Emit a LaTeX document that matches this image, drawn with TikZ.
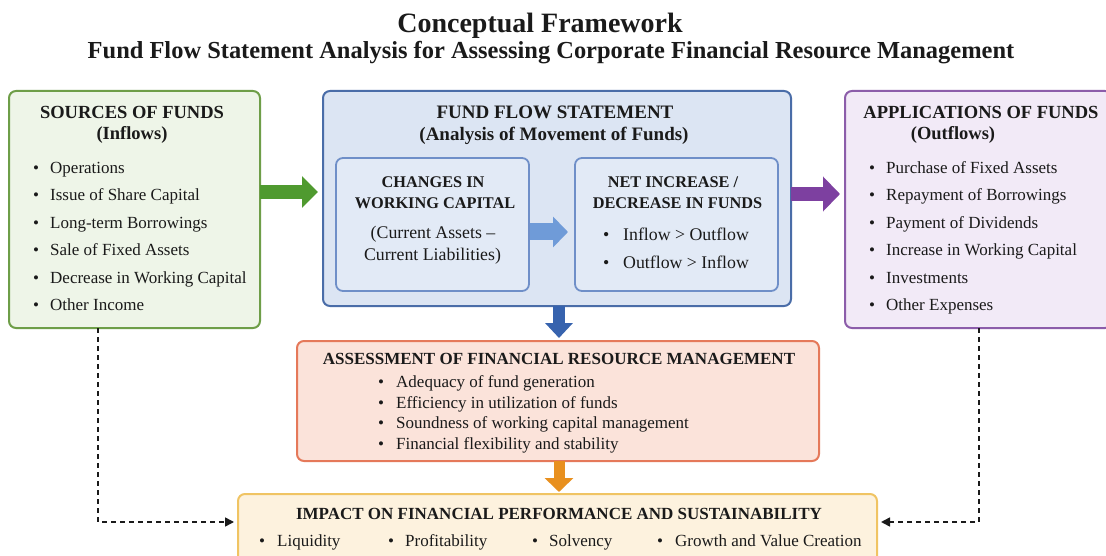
\documentclass[tikz,border=0pt]{standalone}
\usepackage{fontspec}
\setmainfont{Liberation Serif}
\usetikzlibrary{arrows.meta}
\definecolor{srcB}{HTML}{6E9E48}
\definecolor{srcF}{HTML}{EEF5E8}
\definecolor{grA}{HTML}{4F9A2F}
\definecolor{ffsB}{HTML}{4A6DA8}
\definecolor{ffsF}{HTML}{DCE5F3}
\definecolor{inB}{HTML}{6F8FC8}
\definecolor{inF}{HTML}{E2EAF6}
\definecolor{inA}{HTML}{6F9BD8}
\definecolor{blA}{HTML}{3763AE}
\definecolor{appB}{HTML}{8C5DAA}
\definecolor{appF}{HTML}{F2EAF7}
\definecolor{puA}{HTML}{7D40A0}
\definecolor{assB}{HTML}{E5795A}
\definecolor{assF}{HTML}{FBE3DA}
\definecolor{orA}{HTML}{E8901F}
\definecolor{impB}{HTML}{F0C463}
\definecolor{impF}{HTML}{FDF2DE}
\definecolor{ink}{HTML}{1A1A1A}
\newcommand{\bitem}[1]{\makebox[17pt][l]{•}#1}
\begin{document}
\begin{tikzpicture}[x=1pt,y=-1pt,
  box/.style={draw, line width=2pt, rounded corners=7pt, inner sep=0pt, outer sep=0pt},
  tbase/.style={text=ink, inner sep=0pt, text height=0.68em, text depth=0pt, yshift=-3pt},
  hd/.style={tbase, font=\bfseries\fontsize{18.5}{20}\selectfont},
  ihd/.style={tbase, font=\bfseries\fontsize{16.3}{18}\selectfont},
  txt/.style={tbase, font=\fontsize{17}{20}\selectfont},
  itxt/.style={tbase, font=\fontsize{17.8}{20}\selectfont},
  shd/.style={tbase, font=\bfseries\fontsize{17}{19}\selectfont},
  stxt/.style={tbase, font=\fontsize{17}{19}\selectfont, anchor=west},
  li/.style={txt, anchor=west},
  dsh/.style={draw=ink, line width=1.6pt, dash pattern=on 5pt off 4pt, -{Triangle[length=9pt,width=9pt]}}
]
\useasboundingbox (0,0) rectangle (1106,556);
\fill[white] (0,0) rectangle (1106,556);

% titles
\node[font=\bfseries\fontsize{28}{30}\selectfont, text=ink, inner sep=0pt, anchor=base] (title) at (540,33) {Conceptual Framework};
\node[font=\bfseries\fontsize{24.45}{26}\selectfont, text=ink, inner sep=0pt, anchor=base] (subtitle) at (551,58.5) {Fund Flow Statement Analysis for Assessing Corporate Financial Resource Management};

% boxes
\node[box, draw=srcB, fill=srcF, minimum width=251pt, minimum height=237pt] (src) at (134.5,209.5) {};
\node[box, draw=ffsB, fill=ffsF, minimum width=468pt, minimum height=215pt] (ffs) at (557,198.5) {};
\node[box, draw=inB, fill=inF, line width=1.8pt, minimum width=193pt, minimum height=133pt] (wc) at (432.5,224.5) {};
\node[box, draw=inB, fill=inF, line width=1.8pt, minimum width=203pt, minimum height=133pt] (net) at (676.5,224.5) {};
\node[box, draw=appB, fill=appF, minimum width=267pt, minimum height=237pt] (app) at (978.5,209.5) {};
\node[box, draw=assB, fill=assF, minimum width=522pt, minimum height=120pt] (ass) at (558,401) {};
\node[box, draw=impB, fill=impF, minimum width=639pt, minimum height=70pt] (imp) at (557.5,529) {};

% sources text
\node[hd] (srch) at (132,112) {SOURCES OF FUNDS};
\node[hd] (srcs) at (132,133) {(Inflows)};
\node[li] (s1) at (33,167) {\bitem{Operations}};
\node[li] (s2) at (33,194.5) {\bitem{Issue of Share Capital}};
\node[li] (s3) at (33,222) {\bitem{Long-term Borrowings}};
\node[li] (s4) at (33,249.5) {\bitem{Sale of Fixed Assets}};
\node[li] (s5) at (33,277) {\bitem{Decrease in Working Capital}};
\node[li] (s6) at (33,304.5) {\bitem{Other Income}};

% fund flow statement text
\node[hd, font=\bfseries\fontsize{19}{21}\selectfont] (ffsh) at (555,112) {FUND FLOW STATEMENT};
\node[hd, font=\bfseries\fontsize{19}{21}\selectfont] (ffss) at (554,134) {(Analysis of Movement of Funds)};
\node[ihd] (wch1) at (433,181) {CHANGES IN};
\node[ihd] (wch2) at (435,202) {WORKING CAPITAL};
\node[itxt] (wct1) at (433,232.5) {(Current Assets –};
\node[itxt] (wct2) at (432.5,254) {Current Liabilities)};
\node[ihd] (neth1) at (673,181) {NET INCREASE /};
\node[ihd] (neth2) at (677.5,202) {DECREASE IN FUNDS};
\node[itxt, anchor=west] (n1) at (603,234) {\makebox[20pt][l]{•}Inflow > Outflow};
\node[itxt, anchor=west] (n2) at (603,262) {\makebox[20pt][l]{•}Outflow > Inflow};

% applications text
\node[hd] (apph) at (981,112) {APPLICATIONS OF FUNDS};
\node[hd] (apps) at (953,133) {(Outflows)};
\node[li] (a1) at (869,167) {\bitem{Purchase of Fixed Assets}};
\node[li] (a2) at (869,194.5) {\bitem{Repayment of Borrowings}};
\node[li] (a3) at (869,222) {\bitem{Payment of Dividends}};
\node[li] (a4) at (869,249.5) {\bitem{Increase in Working Capital}};
\node[li] (a5) at (869,277) {\bitem{Investments}};
\node[li] (a6) at (869,304.5) {\bitem{Other Expenses}};

% assessment text
\node[shd] (assh) at (559,358.5) {ASSESSMENT OF FINANCIAL RESOURCE MANAGEMENT};
\node[stxt] (b1) at (378,381.5) {\makebox[18pt][l]{•}Adequacy of fund generation};
\node[stxt] (b2) at (378,402) {\makebox[18pt][l]{•}Efficiency in utilization of funds};
\node[stxt] (b3) at (378,422.5) {\makebox[18pt][l]{•}Soundness of working capital management};
\node[stxt] (b4) at (378,443) {\makebox[18pt][l]{•}Financial flexibility and stability};

% impact text
\node[shd] (imph) at (559,513.5) {IMPACT ON FINANCIAL PERFORMANCE AND SUSTAINABILITY};
\node[stxt] (i1) at (259,540) {\makebox[18pt][l]{•}Liquidity};
\node[stxt] (i2) at (388,540) {\makebox[17pt][l]{•}Profitability};
\node[stxt] (i3) at (532,540) {\makebox[17pt][l]{•}Solvency};
\node[stxt] (i4) at (657,540) {\makebox[18pt][l]{•}Growth and Value Creation};

% helper coordinates
\coordinate (gy) at (0,192);
\coordinate (py) at (0,194);
\coordinate (iy) at (0,232);
\coordinate (bx) at (559,0);
\coordinate (lx) at (98,0);
\coordinate (rx) at (979,0);
\coordinate (dy) at (0,522);

% fat arrows
\draw[grA, line width=14pt, -{Triangle[width=31pt,length=16pt]}, shorten >=5pt] (src.east |- gy) -- (ffs.west |- gy);
\draw[puA, line width=14pt, -{Triangle[width=34pt,length=17pt]}, shorten >=5pt] (ffs.east |- py) -- (app.west |- py);
\draw[inA, line width=17pt, -{Triangle[width=30pt,length=15pt]}, shorten >=7pt, shorten <=1pt] (wc.east |- iy) -- (net.west |- iy);
\draw[blA, line width=12pt, -{Triangle[width=27pt,length=15pt]}, shorten >=3pt] (ffs.south -| bx) -- (ass.north -| bx);
\draw[orA, line width=11pt, -{Triangle[width=28pt,length=14pt]}, shorten >=2pt] (ass.south -| bx) -- (imp.north -| bx);

% dashed feedback arrows
\draw[dsh, shorten >=4pt] (src.south -| lx) |- (imp.west |- dy);
\draw[dsh, shorten >=4pt] (app.south -| rx) |- (imp.east |- dy);
\end{tikzpicture}
\end{document}
